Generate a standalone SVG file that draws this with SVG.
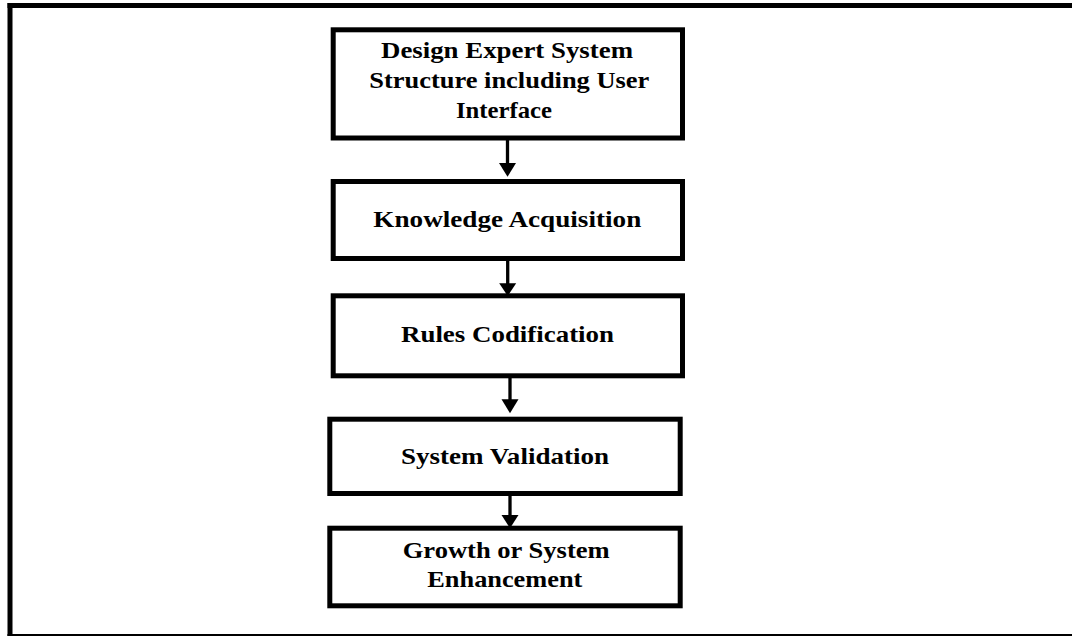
<svg xmlns="http://www.w3.org/2000/svg" width="1072" height="636" viewBox="0 0 1072 636">
<style>
.box{fill:#fff;stroke:#000;stroke-width:5}
.lbl{font-family:"Liberation Serif","Times New Roman",serif;font-weight:bold;font-size:24px;fill:#000}
.conn{stroke:#000;stroke-width:3.3;fill:none}
.head{fill:#000;stroke:none}
</style>
<rect width="1072" height="636" fill="#fff"/>
<g id="frame">
<line x1="7.5" y1="5.5" x2="1072" y2="5.5" stroke="#000" stroke-width="5"/>
<line x1="10" y1="3" x2="10" y2="636" stroke="#000" stroke-width="5"/>
<line x1="7.5" y1="635" x2="1072" y2="635" stroke="#000" stroke-width="1.8"/>
</g>
<g id="connectors">
<line class="conn" x1="507.5" y1="140" x2="507.5" y2="164"/>
<polygon class="head" points="499,163 516,163 507.5,176.7"/>
<line class="conn" x1="507.7" y1="261" x2="507.7" y2="284"/>
<polygon class="head" points="499.2,283.3 516.2,283.3 507.7,296"/>
<line class="conn" x1="510" y1="378" x2="510" y2="400"/>
<polygon class="head" points="501.5,399.3 518.5,399.3 510,413.3"/>
<line class="conn" x1="510" y1="496" x2="510" y2="516"/>
<polygon class="head" points="501.5,515 518.5,515 510,528.3"/>
</g>
<g id="node1">
<rect class="box" x="333.2" y="29.8" width="349.3" height="108.2"/>
<text class="lbl" x="381" y="57.7" textLength="252" lengthAdjust="spacingAndGlyphs">Design Expert System</text>
<text class="lbl" x="369.3" y="88.3" textLength="280" lengthAdjust="spacingAndGlyphs">Structure including User</text>
<text class="lbl" x="456" y="117.7" textLength="96" lengthAdjust="spacingAndGlyphs">Interface</text>
</g>
<g id="node2">
<rect class="box" x="333.2" y="181.5" width="349.3" height="77"/>
<text class="lbl" x="373.3" y="227.3" textLength="268" lengthAdjust="spacingAndGlyphs">Knowledge Acquisition</text>
</g>
<g id="node3">
<rect class="box" x="333.2" y="295.8" width="349.3" height="80"/>
<text class="lbl" x="401" y="341.7" textLength="213" lengthAdjust="spacingAndGlyphs">Rules Codification</text>
</g>
<g id="node4">
<rect class="box" x="329.8" y="419.2" width="350.4" height="74.3"/>
<text class="lbl" x="401" y="464" textLength="208" lengthAdjust="spacingAndGlyphs">System Validation</text>
</g>
<g id="node5">
<rect class="box" x="329.8" y="528.2" width="350.4" height="77.6"/>
<text class="lbl" x="402.7" y="558.3" textLength="207" lengthAdjust="spacingAndGlyphs">Growth or System</text>
<text class="lbl" x="427.3" y="586.7" textLength="155" lengthAdjust="spacingAndGlyphs">Enhancement</text>
</g>
</svg>
